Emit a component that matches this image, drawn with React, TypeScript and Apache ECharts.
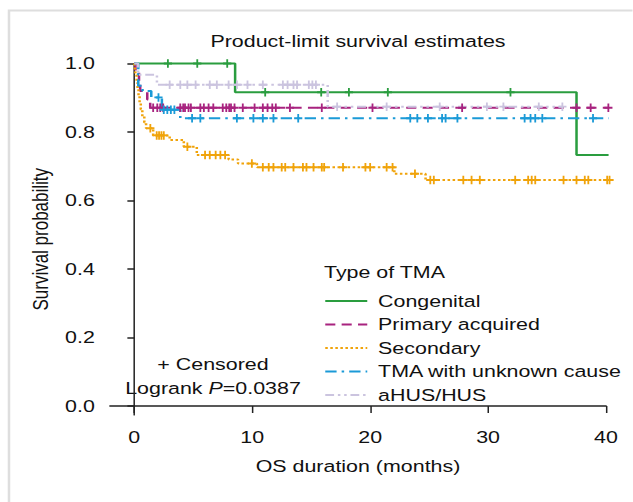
import React, { useEffect, useRef } from "react";
import * as echarts from "echarts";

// ---- Data (months, survival probability) ----
const seriesNames = ["Congenital", "Primary acquired", "Secondary", "TMA with unknown cause", "aHUS/HUS"];

const congenitalTimes = [0, 8.55, 37.5, 40.6];
const congenitalSurv = [1, 0.916, 0.733, 0.733];
const congenitalCensor = [2.85, 5.34, 7.88, 11.1, 15.85, 18.2, 21.5, 31.9];

const primaryTimes = [0, 0.1, 0.4, 0.5, 1.1, 1.35, 40.6];
const primarySurv = [1, 0.975, 0.945, 0.92, 0.895, 0.871, 0.871];
const primaryCensor = [1.6, 1.95, 2.2, 2.45, 3.9, 4.15, 4.3, 4.6, 4.8, 5.6, 5.9, 6.3, 6.7, 7.5, 7.8, 8.05, 8.2, 8.5, 9.2, 10.2, 10.9, 11.3, 11.7, 12.0, 13.2, 15.9, 20.2, 27.8, 37.5, 38.7, 40.2];

const secondaryTimes = [0, 0.05, 0.12, 0.2, 0.28, 0.36, 0.45, 0.55, 0.68, 0.85, 1.0, 1.6, 3.0, 4.2, 5.3, 8.0, 8.8, 10.4, 22.05, 24.7, 40.6];
const secondarySurv = [1, 0.985, 0.965, 0.945, 0.925, 0.905, 0.885, 0.866, 0.846, 0.828, 0.811, 0.79, 0.777, 0.757, 0.733, 0.72, 0.708, 0.697, 0.678, 0.66, 0.66];
const secondaryCensor = [1.36, 1.9, 2.1, 2.3, 2.5, 4.5, 6.0, 6.4, 6.9, 7.3, 7.7, 9.97, 10.9, 11.4, 11.8, 12.5, 12.8, 13.5, 14.3, 14.6, 15.2, 15.9, 16.1, 17.7, 19.6, 20.0, 21.4, 21.9, 23.8, 25.1, 25.4, 27.9, 28.6, 29.3, 32.3, 33.4, 33.7, 34.0, 36.4, 37.5, 38.2, 38.5, 40.1, 40.3];

const unknownTimes = [0, 0.34, 0.7, 1.44, 2.34, 3.9, 40.6];
const unknownSurv = [1, 0.935, 0.92, 0.901, 0.865, 0.84, 0.84];
const unknownCensor = [2.05, 2.5, 2.8, 3.1, 3.4, 4.9, 5.6, 8.7, 10.1, 10.9, 11.8, 13.9, 23.4, 24.0, 24.9, 26.1, 26.4, 27.4, 33.1, 33.6, 34.0, 34.6, 38.9];

const ahusTimes = [0, 0.32, 1.92, 16.4, 36.3];
const ahusSurv = [1, 0.967, 0.938, 0.874, 0.874];
const ahusCensor = [3.0, 3.9, 4.5, 5.2, 6.4, 7.0, 8.0, 8.7, 9.6, 10.9, 12.6, 13.0, 13.5, 13.8, 14.8, 15.1, 15.4, 17.2, 21.4, 25.9, 29.9, 31.3, 34.3, 36.3];

const xTicks = [0, 10, 20, 30, 40];
const yTicks = [0, 0.2, 0.4, 0.6, 0.8, 1.0];

const FONT = "'Liberation Sans', Arial, sans-serif";
// the reference picture is stretched horizontally; draw at narrower width and stretch
const S = 1.26;
const W = 633 / S;
const H = 502;
const sx = (x: number) => x / S;

const groups = [
  { times: congenitalTimes, surv: congenitalSurv, censor: congenitalCensor, color: "#2a9d3f", type: "solid" as any },
  { times: primaryTimes, surv: primarySurv, censor: primaryCensor, color: "#a8237f", type: [8, 5] as any },
  { times: secondaryTimes, surv: secondarySurv, censor: secondaryCensor, color: "#f0a30a", type: [2, 2] as any },
  { times: unknownTimes, surv: unknownSurv, censor: unknownCensor, color: "#1b9ad7", type: [9, 4, 2, 4] as any },
  { times: ahusTimes, surv: ahusSurv, censor: ahusCensor, color: "#cbc4df", type: [7, 3, 2, 3, 2, 3] as any },
];

function survAt(times: number[], surv: number[], t: number) {
  let s = surv[0];
  for (let i = 0; i < times.length; i++) {
    if (times[i] <= t) s = surv[i];
  }
  return s;
}

const PLUS = "path://M3.5,0H5.5V3.5H9V5.5H5.5V9H3.5V5.5H0V3.5H3.5Z";

export default function App() {
  const ref = useRef<HTMLDivElement>(null);
  useEffect(() => {
    if (!ref.current) return;
    const chart = echarts.init(ref.current, undefined, { renderer: "svg", width: W, height: H });
    const lineSeries = groups.map((g, i) => ({
      name: seriesNames[i],
      type: "line",
      step: "end",
      symbol: "none",
      clip: false,
      data: g.times.map((t, k) => [t, g.surv[k]]),
      lineStyle: { color: g.color, width: 2, type: g.type },
      itemStyle: { color: g.color },
      z: 3,
    }));
    const censorSeries = groups.map((g, i) => ({
      name: seriesNames[i] + " (censored)",
      type: "scatter",
      symbol: PLUS,
      symbolSize: [6.5, 8.5],
      clip: false,
      data: g.censor.map((t) => [t, survAt(g.times, g.surv, t)]),
      itemStyle: { color: g.color, opacity: 1 },
      z: 4,
    }));
    chart.setOption({
      animation: false,
      backgroundColor: "#ffffff",
      textStyle: { fontFamily: FONT },
      title: {
        text: "Product-limit survival estimates",
        left: sx(358),
        top: 33,
        textAlign: "center",
        padding: 0,
        textStyle: { fontFamily: FONT, fontSize: 17, fontWeight: "normal", color: "#111" },
      },
      grid: { left: sx(110), right: sx(27), top: 63.5, bottom: 87, containLabel: false },
      xAxis: {
        type: "value",
        min: -2.06,
        max: 40,
        name: "OS duration (months)",
        nameLocation: "middle",
        nameGap: 43,
        nameTextStyle: { fontFamily: FONT, fontSize: 17, color: "#111" },
        axisLine: { show: true, lineStyle: { color: "#222", width: 1.5 } },
        axisTick: { show: true, customValues: xTicks, length: 7, lineStyle: { color: "#222", width: 1.2 } },
        axisLabel: { customValues: xTicks, margin: 14, fontFamily: FONT, fontSize: 17, color: "#111" },
        splitLine: { show: false },
      },
      yAxis: {
        type: "value",
        min: -0.0263,
        max: 1,
        name: "Survival probability",
        nameLocation: "middle",
        nameGap: 44,
        nameTextStyle: { fontFamily: FONT, fontSize: 17, color: "#111" },
        axisLine: { show: true, lineStyle: { color: "#222", width: 1.2 } },
        axisTick: { show: true, customValues: yTicks, length: 5.5, lineStyle: { color: "#222", width: 1.5 } },
        axisLabel: {
          customValues: yTicks,
          margin: 12,
          fontFamily: FONT,
          fontSize: 17,
          color: "#111",
          formatter: (v: number) => v.toFixed(1),
        },
        splitLine: { show: false },
      },
      legend: {
        data: seriesNames,
        orient: "vertical",
        left: sx(324),
        top: 291,
        padding: 0,
        itemWidth: sx(42),
        itemHeight: 14,
        itemGap: 3.5,
        selectedMode: false,
        itemStyle: { opacity: 0 },
        textStyle: { fontFamily: FONT, fontSize: 17, color: "#111", lineHeight: 20, padding: [0, 0, 0, 3.6] },
      },
      graphic: [
        {
          type: "rect",
          shape: { x: sx(9), y: 10.5, width: 700, height: 600 },
          style: { fill: "none", stroke: "#dedede", lineWidth: 2 },
          silent: true,
          z: -10,
        },
        {
          type: "text",
          x: sx(324),
          y: 272,
          style: { text: "Type of TMA", font: `17px ${FONT}`, fill: "#111", textVerticalAlign: "middle" },
        },
        {
          type: "text",
          x: sx(213),
          y: 364,
          style: { text: "+ Censored", font: `17px ${FONT}`, fill: "#111", textAlign: "center", textVerticalAlign: "middle" },
        },
        {
          type: "text",
          x: sx(213),
          y: 388,
          style: {
            text: "Logrank {it|P}=0.0387",
            font: `17px ${FONT}`,
            fill: "#111",
            textAlign: "center",
            textVerticalAlign: "middle",
            rich: { it: { fontStyle: "italic", fontFamily: FONT, fontSize: 17 } },
          },
        },
      ],
      series: [...lineSeries, ...censorSeries],
    });
    return () => chart.dispose();
  }, []);
  return (
    <div style={{ position: "fixed", left: 0, top: 0, width: 633, height: 502, overflow: "hidden", background: "#fff" }}>
      <div
        ref={ref}
        style={{ width: W, height: H, transform: `scaleX(${S})`, transformOrigin: "0 0" }}
      />
    </div>
  );
}
